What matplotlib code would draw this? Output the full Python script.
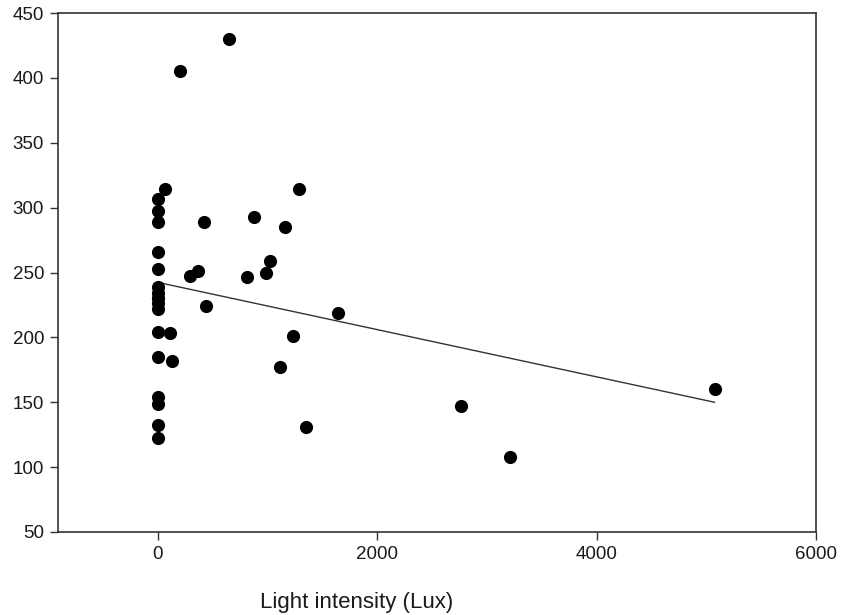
import matplotlib
matplotlib.use("Agg")
import matplotlib.pyplot as plt
import numpy as np

plt.rcParams['font.family'] = ['Liberation Sans', 'DejaVu Sans']

light_lux = [645, 198, 67, 6, 0, 0, 417, 879, 1289, 1155,
             0, 0, 365, 295, 812, 1025, 982,
             0, 0, 0, 0, 0, 438, 1638,
             0, 113, 1231, 0, 128, 1116,
             0, 0, 2763, 1352, 0, 0, 3212, 5075]
response = [430, 405.5, 314, 307, 297.6, 288.7, 289.2, 293, 314, 285.3,
            266, 252.5, 251.4, 247.3, 246.3, 259.1, 249.4,
            238.6, 234.4, 230.1, 226.3, 221.6, 224.2, 219,
            204.4, 203.6, 201.3, 184.6, 182, 177.4,
            153.8, 148.6, 147.1, 131, 132.5, 122.7, 108, 160]

fit_x = [0, 5075]
fit_y = [242.4, 150]

x_ticks = [0, 2000, 4000, 6000]
y_ticks = [50, 100, 150, 200, 250, 300, 350, 400, 450]

fig = plt.figure(figsize=(8.43, 6.15), dpi=100)
ax = fig.add_axes([58/843, 83/615, 758/843, 519/615])

ax.scatter(light_lux, response, s=90, color='black', zorder=3, linewidths=0)
ax.plot(fit_x, fit_y, color='#333333', lw=1.0, zorder=2)

ax.set_xlim(-910, 6000)
ax.set_ylim(50, 450)
ax.set_xticks(x_ticks)
ax.set_yticks(y_ticks)

for s in ['top', 'right', 'left', 'bottom']:
    ax.spines[s].set_color('#333333')
    ax.spines[s].set_linewidth(1.2)

ax.tick_params(axis='both', direction='out', length=6, width=1.0, color='#333333',
               labelsize=13.5, labelcolor='#1a1a1a')
ax.tick_params(axis='x', pad=4)
ax.tick_params(axis='y', pad=4)

ax.set_xlabel('Light intensity (Lux)', fontsize=16, color='#1a1a1a')
ax.xaxis.set_label_coords(0.394, -0.115)

fig.savefig('out.png', dpi=100)
